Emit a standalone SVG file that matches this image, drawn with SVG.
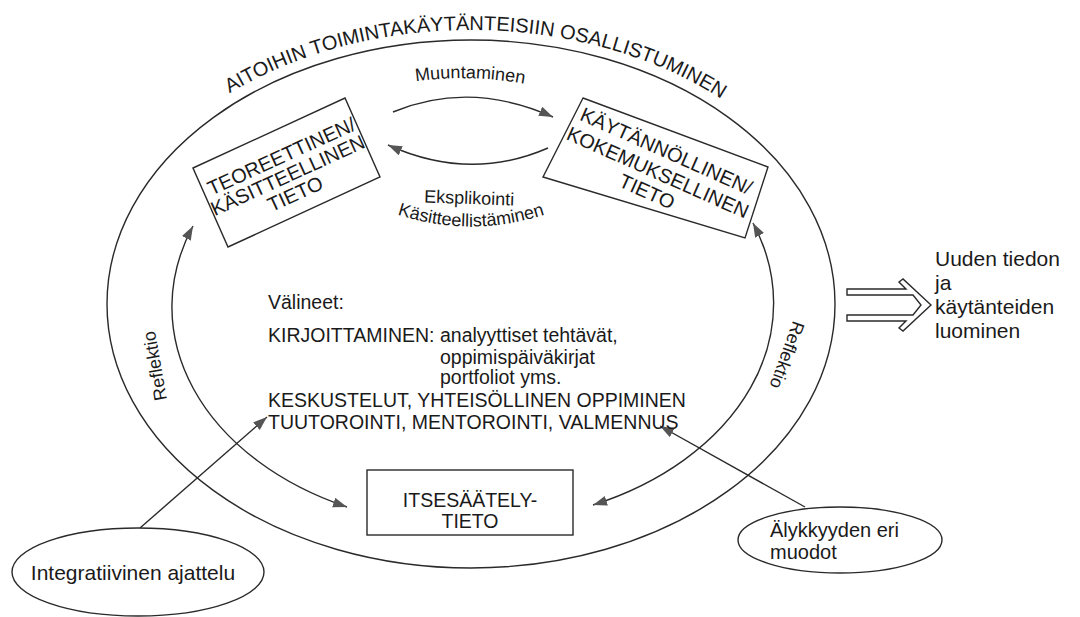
<svg xmlns="http://www.w3.org/2000/svg" width="1080" height="617" viewBox="0 0 1080 617">
<style>
.ln{fill:none;stroke:#2a2a2a;stroke-width:1.4}
.bx{fill:#fff;stroke:#2a2a2a;stroke-width:1.4}
.t{font-family:"Liberation Sans",Arial,sans-serif;fill:#1a1a1a}
.f20{font-size:20px}
.f19{font-size:19.5px}
.f18{font-size:18px}
.f21{font-size:21px}
</style>
<defs>
<marker id="ah" markerUnits="userSpaceOnUse" markerWidth="16" markerHeight="12" refX="14" refY="5" orient="auto-start-reverse">
<path d="M0,0 L14,5 L0,10 Z" fill="#555"/>
</marker>
<path id="topArc" d="M91,308 A380 278 0 0 1 851,308"/>
<path id="muuArc" d="M400,84 Q470,71 540,87"/>
<path id="kasArc" d="M390,212 Q471,241 552,212"/>
</defs>
<rect width="1080" height="617" fill="#fff"/>

<g id="outer-ellipse">
<ellipse class="ln" cx="471" cy="304" rx="364" ry="264"/>
<text class="t f20"><textPath href="#topArc" startOffset="50.5%" text-anchor="middle">AITOIHIN TOIMINTAKÄYTÄNTEISIIN OSALLISTUMINEN</textPath></text>
</g>

<g id="connectors">
<path class="ln" d="M393,112 Q470,80 553,117" marker-end="url(#ah)"/>
<path class="ln" d="M548,148 Q470,182 388,145" marker-end="url(#ah)"/>
<path class="ln" d="M347,507 A300 220 0 0 1 193,226" marker-start="url(#ah)" marker-end="url(#ah)"/>
<path class="ln" d="M593,505 A300 220 0 0 0 753,223" marker-start="url(#ah)" marker-end="url(#ah)"/>
<line class="ln" x1="140" y1="528" x2="267" y2="417" marker-end="url(#ah)"/>
<line class="ln" x1="805" y1="507" x2="660" y2="426" marker-end="url(#ah)"/>
<path class="ln" d="M847,289 H906 L899,282 L903,279 L931,305 L903,331 L899,328 L906,321 H847 V315 H913 L921,305 L913,295 H847 Z"/>
</g>

<g id="labels">
<text class="t f18"><textPath href="#muuArc" startOffset="50%" text-anchor="middle">Muuntaminen</textPath></text>
<text class="t f18" transform="translate(469,204) rotate(2)" text-anchor="middle">Eksplikointi</text>
<text class="t f18"><textPath href="#kasArc" startOffset="50%" text-anchor="middle">Käsitteellistäminen</textPath></text>
<text class="t f18" transform="translate(155,366) rotate(-100)" text-anchor="middle" y="6">Reflektio</text>
<text class="t f18" transform="translate(787,355) rotate(110)" text-anchor="middle" y="6">Reflektio</text>
</g>

<g id="node-teoreettinen">
<polygon class="bx" points="193,168 345,98 380,177 228,247"/>
<g transform="translate(286.5,172.5) rotate(-24.5)">
<text class="t f20" text-anchor="middle" x="2" y="-10">TEOREETTINEN/</text>
<text class="t f20" text-anchor="middle" x="0" y="10">KÄSITTEELLINEN</text>
<text class="t f20" text-anchor="middle" x="-1" y="30">TIETO</text>
</g>
</g>

<g id="node-kaytannollinen">
<polygon class="bx" points="583,98 768,167 745,238 543,177"/>
<g transform="translate(660,170) rotate(24)">
<text class="t f20" text-anchor="middle" x="-2" y="-13">KÄYTÄNNÖLLINEN/</text>
<text class="t f20" text-anchor="middle" x="-1" y="10">KOKEMUKSELLINEN</text>
<text class="t f20" text-anchor="middle" x="-3" y="32">TIETO</text>
</g>
</g>

<g id="node-valineet">
<text class="t f19" x="268" y="309">Välineet:</text>
<text class="t f19" x="268" y="342">KIRJOITTAMINEN:</text>
<text class="t f19" x="440" y="342">analyyttiset tehtävät,</text>
<text class="t f19" x="440" y="364">oppimispäiväkirjat</text>
<text class="t f19" x="440" y="384">portfoliot yms.</text>
<text class="t f19" x="268" y="407">KESKUSTELUT, YHTEISÖLLINEN OPPIMINEN</text>
<text class="t f19" x="268" y="429">TUUTOROINTI, MENTOROINTI, VALMENNUS</text>
</g>

<g id="node-itsesaately">
<rect class="bx" x="367" y="470" width="206" height="65"/>
<text class="t f19" x="470" y="507" text-anchor="middle">ITSESÄÄTELY-</text>
<text class="t f19" x="470" y="528" text-anchor="middle">TIETO</text>
</g>

<g id="node-integratiivinen">
<ellipse class="bx" cx="138" cy="572" rx="126" ry="44"/>
<text class="t f21" x="133" y="580" text-anchor="middle">Integratiivinen ajattelu</text>
</g>

<g id="node-alykkyys">
<ellipse class="bx" cx="840" cy="540" rx="102" ry="33"/>
<text class="t f20" x="770" y="537">Älykkyyden eri</text>
<text class="t f20" x="770" y="559">muodot</text>
</g>

<g id="node-uuden">
<text class="t f21" x="935" y="266">Uuden tiedon</text>
<text class="t f21" x="935" y="290">ja</text>
<text class="t f21" x="935" y="314">käytänteiden</text>
<text class="t f21" x="935" y="338">luominen</text>
</g>
</svg>
